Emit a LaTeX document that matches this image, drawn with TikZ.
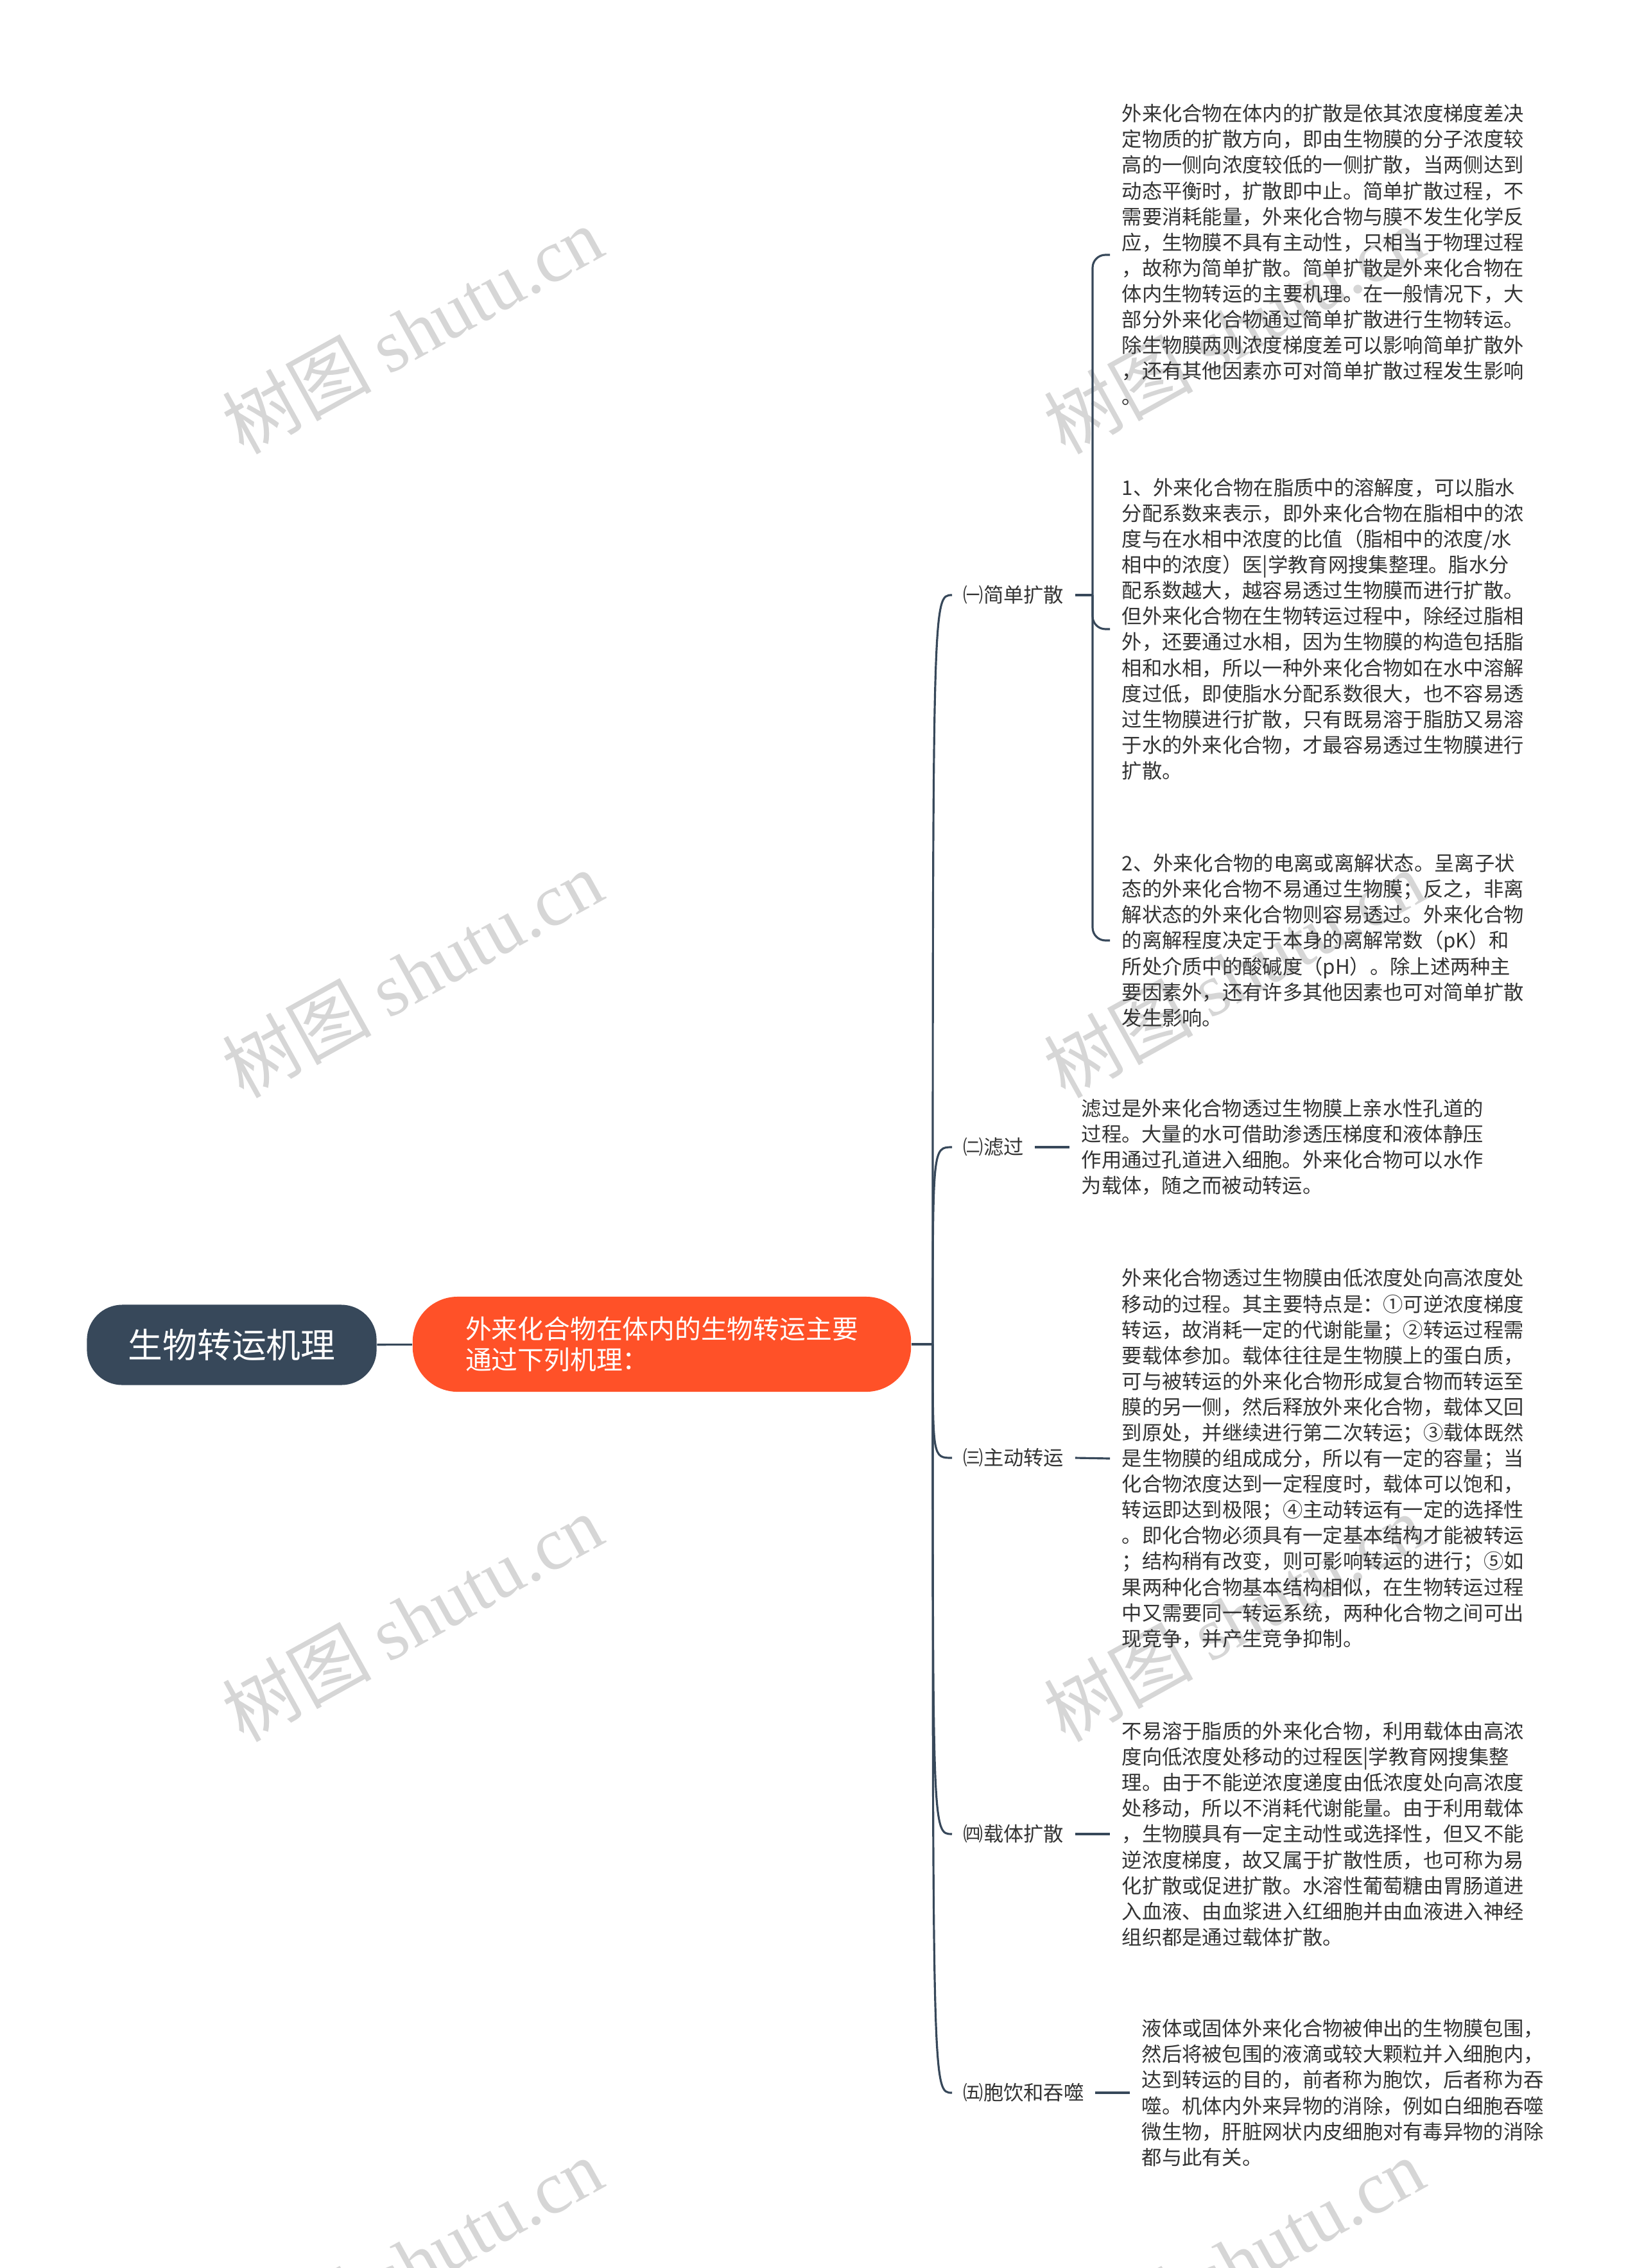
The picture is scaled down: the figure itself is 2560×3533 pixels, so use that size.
\documentclass[tikz,border=0pt]{standalone}
\usepackage{fontspec}
\setmainfont{Noto Sans CJK SC}
\newfontfamily\wmserif{Liberation Serif}
\usepackage{tikz}
\definecolor{zhuxian}{HTML}{37485A}
\definecolor{chenghong}{HTML}{FF5128}
\definecolor{wenzi}{HTML}{333333}
\definecolor{shuiyinse}{HTML}{D6D6D6}

\begin{document}
\begin{tikzpicture}[x=0.01cm,y=-0.01cm,
    lianxian/.style={draw=zhuxian,line width=0.9pt},
    genjie/.style={fill=zhuxian,text=white,rounded corners=0.55cm,minimum width=4.51cm,minimum height=1.25cm,font=\fontsize{15.3}{18}\selectfont},
    zhongjie/.style={fill=chenghong,text=white,rounded corners=0.7cm,minimum width=7.76cm,minimum height=1.48cm,align=left,font=\fontsize{11.6}{13.4}\selectfont},
    fenzhi/.style={anchor=west,inner xsep=0.17cm,text=wenzi,font=\fontsize{8.9}{11.4}\selectfont},
    neirong/.style={anchor=west,inner xsep=0.18cm,align=left,text=wenzi,font=\fontsize{8.9}{11.4}\selectfont},
    shuiyin/.style={rotate=29,text=shuiyinse,font=\fontsize{33}{33}\selectfont}]
        \useasboundingbox (0,0) rectangle (2560,3533);%画布大小
        \foreach \y in {514,1517,2520,3523}%水印
        {
            \node[shuiyin] (wl\y) at (642,\y) {树图 {\wmserif shutu.cn}};
            \node[shuiyin] (wr\y) at (1922,\y) {树图 {\wmserif shutu.cn}};
        }
        \node[genjie] (root) at (361,2095) {生物转运机理};
        \node[zhongjie] (mid) at (1031,2094) {外来化合物在体内的生物转运主要\\通过下列机理：};
        \coordinate (zhu) at (1453,2094);
        \node[fenzhi] (l1) at (1483,927) {㈠简单扩散};
        \node[fenzhi] (l2) at (1483,1787) {㈡滤过};
        \node[fenzhi] (l3) at (1483,2271) {㈢主动转运};
        \node[fenzhi] (l4) at (1483,2857) {㈣载体扩散};
        \node[fenzhi] (l5) at (1483,3260) {㈤胞饮和吞噬};
        \coordinate (fen1) at (1702,927);
        \node[neirong] (c11) at (1729,397) {外来化合物在体内的扩散是依其浓度梯度差决\\定物质的扩散方向，即由生物膜的分子浓度较\\高的一侧向浓度较低的一侧扩散，当两侧达到\\动态平衡时，扩散即中止。简单扩散过程，不\\需要消耗能量，外来化合物与膜不发生化学反\\应，生物膜不具有主动性，只相当于物理过程\\，故称为简单扩散。简单扩散是外来化合物在\\体内生物转运的主要机理。在一般情况下，大\\部分外来化合物通过简单扩散进行生物转运。\\除生物膜两则浓度梯度差可以影响简单扩散外\\，还有其他因素亦可对简单扩散过程发生影响\\。};
        \node[neirong] (c12) at (1729,980) {1、外来化合物在脂质中的溶解度，可以脂水\\分配系数来表示，即外来化合物在脂相中的浓\\度与在水相中浓度的比值（脂相中的浓度/水\\相中的浓度）医|学教育网搜集整理。脂水分\\配系数越大，越容易透过生物膜而进行扩散。\\但外来化合物在生物转运过程中，除经过脂相\\外，还要通过水相，因为生物膜的构造包括脂\\相和水相，所以一种外来化合物如在水中溶解\\度过低，即使脂水分配系数很大，也不容易透\\过生物膜进行扩散，只有既易溶于脂肪又易溶\\于水的外来化合物，才最容易透过生物膜进行\\扩散。};
        \node[neirong] (c13) at (1729,1465) {2、外来化合物的电离或离解状态。呈离子状\\态的外来化合物不易通过生物膜；反之，非离\\解状态的外来化合物则容易透过。外来化合物\\的离解程度决定于本身的离解常数（pK）和\\所处介质中的酸碱度（pH）。除上述两种主\\要因素外，还有许多其他因素也可对简单扩散\\发生影响。};
        \node[neirong] (c2) at (1666,1787) {滤过是外来化合物透过生物膜上亲水性孔道的\\过程。大量的水可借助渗透压梯度和液体静压\\作用通过孔道进入细胞。外来化合物可以水作\\为载体，随之而被动转运。};
        \node[neirong] (c3) at (1729,2272) {外来化合物透过生物膜由低浓度处向高浓度处\\移动的过程。其主要特点是：①可逆浓度梯度\\转运，故消耗一定的代谢能量；②转运过程需\\要载体参加。载体往往是生物膜上的蛋白质，\\可与被转运的外来化合物形成复合物而转运至\\膜的另一侧，然后释放外来化合物，载体又回\\到原处，并继续进行第二次转运；③载体既然\\是生物膜的组成成分，所以有一定的容量；当\\化合物浓度达到一定程度时，载体可以饱和，\\转运即达到极限；④主动转运有一定的选择性\\。即化合物必须具有一定基本结构才能被转运\\；结构稍有改变，则可影响转运的进行；⑤如\\果两种化合物基本结构相似，在生物转运过程\\中又需要同一转运系统，两种化合物之间可出\\现竞争，并产生竞争抑制。};
        \node[neirong] (c4) at (1729,2857) {不易溶于脂质的外来化合物，利用载体由高浓\\度向低浓度处移动的过程医|学教育网搜集整\\理。由于不能逆浓度递度由低浓度处向高浓度\\处移动，所以不消耗代谢能量。由于利用载体\\，生物膜具有一定主动性或选择性，但又不能\\逆浓度梯度，故又属于扩散性质，也可称为易\\化扩散或促进扩散。水溶性葡萄糖由胃肠道进\\入血液、由血浆进入红细胞并由血液进入神经\\组织都是通过载体扩散。};
        \node[neirong] (c5) at (1760,3260) {液体或固体外来化合物被伸出的生物膜包围，\\然后将被包围的液滴或较大颗粒并入细胞内，\\达到转运的目的，前者称为胞饮，后者称为吞\\噬。机体内外来异物的消除，例如白细胞吞噬\\微生物，肝脏网状内皮细胞对有毒异物的消除\\都与此有关。};
        \draw[lianxian] (root) -- (mid);
        \draw[lianxian] (mid.east) -- (zhu);
        \foreach \i in {1,...,5}%主干分支
        {
            \draw[lianxian] (zhu) .. controls (zhu |- l\i.west) .. (l\i.west);
        }
        \draw[lianxian] (l1.east) -- (fen1);
        \foreach \j in {1,2,3}
        {
            \draw[lianxian,rounded corners=0.2cm] (fen1) |- (c1\j.west);
        }
        \draw[lianxian] (l2.east) -- (c2.west);
        \draw[lianxian] (l3.east) -- (c3.west);
        \draw[lianxian] (l4.east) -- (c4.west);
        \draw[lianxian] (l5.east) -- (c5.west);
\end{tikzpicture}
\end{document}
